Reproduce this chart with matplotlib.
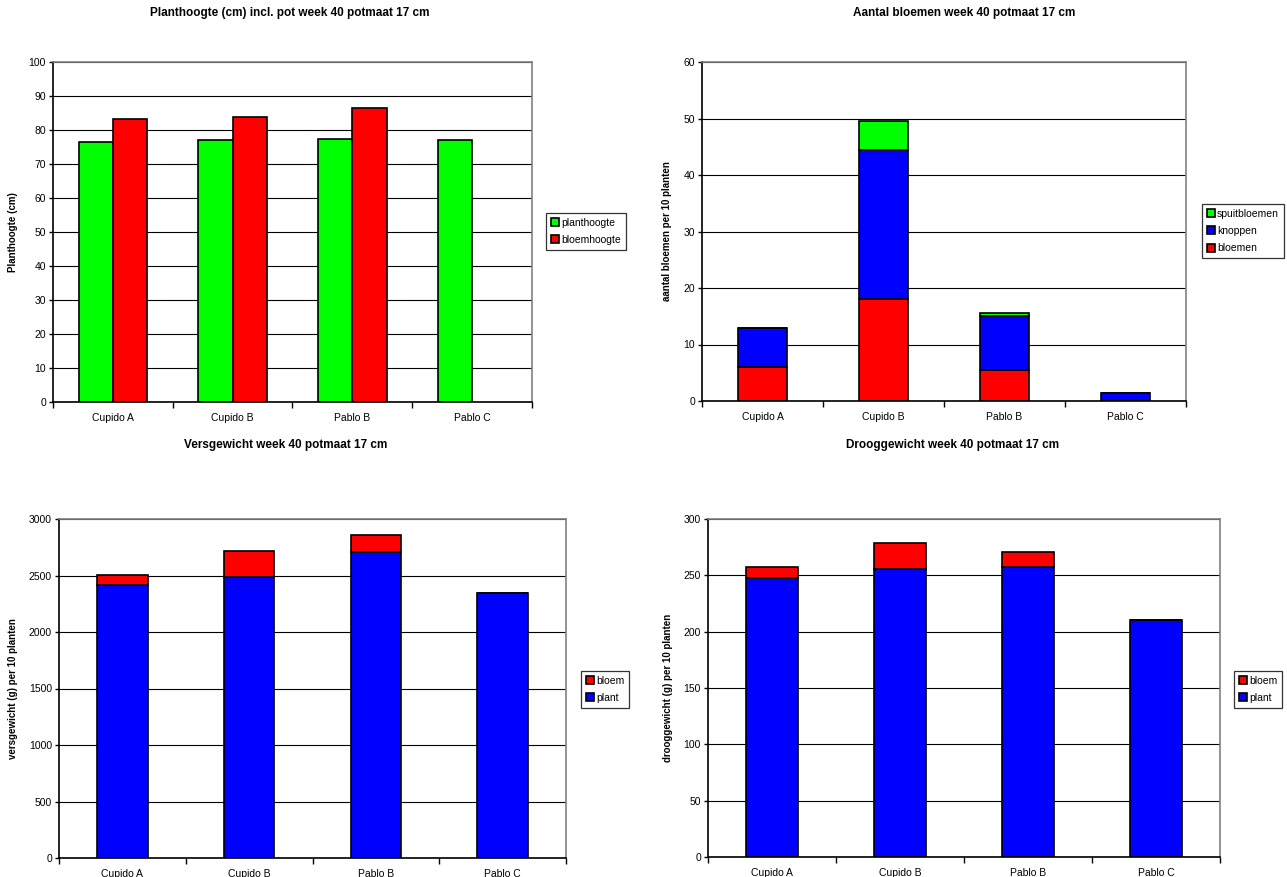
import numpy as np
import matplotlib
matplotlib.use("Agg")
import matplotlib.pyplot as plt

plt.rcParams['font.family'] = ['Liberation Sans', 'DejaVu Sans']

rassen = ['Cupido A', 'Cupido B', 'Pablo B', 'Pablo C']

# planthoogte incl. pot (cm)
planthoogte = [76.4, 77.2, 77.4, 77.1]
bloemhoogte = [83.1, 83.9, 86.4, np.nan]

# aantal bloemen per 10 planten
bloemen = [6.0, 18.0, 5.5, 0.0]
knoppen = [7.0, 26.5, 9.5, 1.5]
spuitbloemen = [0.0, 5.0, 0.5, 0.0]

# versgewicht (g) per 10 planten
vers_plant = [2415, 2490, 2705, 2345]
vers_bloem = [90, 230, 150, 0]

# drooggewicht (g) per 10 planten
droog_plant = [248, 256, 257, 210]
droog_bloem = [9, 23, 14, 0]

GREEN = '#00ff00'
RED = '#ff0000'
BLUE = '#0000ff'

W, H = 1287, 877
fig = plt.figure(figsize=(W / 100, H / 100), dpi=100)


def px_axes(l, t, r, b):
    return fig.add_axes([l / W, 1 - b / H, (r - l) / W, (b - t) / H])


def excel_style(ax, ymax, ystep, ylabel):
    x = np.arange(len(rassen))
    ax.set_xlim(-0.5, len(rassen) - 0.5)
    ax.set_ylim(0, ymax)
    ax.set_yticks(np.arange(0, ymax + ystep / 2, ystep))
    ax.set_xticks(x)
    ax.set_xticklabels(rassen)
    ax.set_xticks(np.arange(-0.5, len(rassen), 1.0), minor=True)
    ax.tick_params(axis='x', which='major', length=0, pad=8, labelsize=7.5)
    ax.tick_params(axis='x', which='minor', length=4, width=1, direction='out')
    ax.tick_params(axis='y', length=3, width=1, direction='out', pad=2, labelsize=7.5)
    ax.yaxis.grid(True, color='black', linewidth=0.8)
    ax.set_axisbelow(True)
    for side in ('top', 'right'):
        ax.spines[side].set_color('#808080')
        ax.spines[side].set_linewidth(1.2)
    for side in ('left', 'bottom'):
        ax.spines[side].set_color('black')
        ax.spines[side].set_linewidth(1.2)
    ax.set_ylabel(ylabel, fontsize=7, fontweight='bold', labelpad=8)


def legend_box(ax, handles, labels, x, y):
    leg = ax.legend(handles, labels, loc='upper left',
                    bbox_to_anchor=(x / W, 1 - y / H),
                    bbox_transform=fig.transFigure,
                    fontsize=7.5, frameon=True, fancybox=False,
                    handlelength=0.8, handleheight=0.8, handletextpad=0.2,
                    borderpad=0.45, labelspacing=0.7, borderaxespad=0)
    leg.get_frame().set_edgecolor('black')
    leg.get_frame().set_linewidth(0.9)
    return leg


def title(x, y, text):
    fig.text(x / W, 1 - y / H, text, ha='center', va='center',
             fontsize=8.5, fontweight='bold')


bar_kw = dict(edgecolor='black', linewidth=1.2)
x = np.arange(len(rassen))

# Planthoogte
ax1 = px_axes(53, 62, 532, 402)
w = 1 / 3.5
b1 = ax1.bar(x - w / 2, planthoogte, w, color=GREEN, **bar_kw)
b2 = ax1.bar(x + w / 2, bloemhoogte, w, color=RED, **bar_kw)
excel_style(ax1, 100, 10, 'Planthoogte (cm)')
legend_box(ax1, [b1, b2], ['planthoogte', 'bloemhoogte'], 546, 213)
title(290, 13, 'Planthoogte (cm) incl. pot week 40 potmaat 17 cm')

# Aantal bloemen
ax2 = px_axes(702, 62, 1186, 401)
sw = 0.4
s1 = ax2.bar(x, bloemen, sw, color=RED, **bar_kw)
s2 = ax2.bar(x, knoppen, sw, bottom=bloemen, color=BLUE, **bar_kw)
s3 = ax2.bar(x, spuitbloemen, sw, bottom=np.add(bloemen, knoppen), color=GREEN, **bar_kw)
excel_style(ax2, 60, 10, 'aantal bloemen per 10 planten')
legend_box(ax2, [s3, s2, s1], ['spuitbloemen', 'knoppen', 'bloemen'], 1202, 204)
title(964, 13, 'Aantal bloemen week 40 potmaat 17 cm')

# Versgewicht
ax3 = px_axes(59, 519, 566, 858)
v1 = ax3.bar(x, vers_plant, sw, color=BLUE, **bar_kw)
v2 = ax3.bar(x, vers_bloem, sw, bottom=vers_plant, color=RED, **bar_kw)
excel_style(ax3, 3000, 500, 'versgewicht (g) per 10 planten')
legend_box(ax3, [v2, v1], ['bloem', 'plant'], 581, 671)
title(286, 445, 'Versgewicht week 40 potmaat 17 cm')

# Drooggewicht
ax4 = px_axes(708, 519, 1220, 857)
d1 = ax4.bar(x, droog_plant, sw, color=BLUE, **bar_kw)
d2 = ax4.bar(x, droog_bloem, sw, bottom=droog_plant, color=RED, **bar_kw)
excel_style(ax4, 300, 50, 'drooggewicht (g) per 10 planten')
legend_box(ax4, [d2, d1], ['bloem', 'plant'], 1234, 671)
title(953, 445, 'Drooggewicht week 40 potmaat 17 cm')

fig.savefig('out.png', dpi=100)
